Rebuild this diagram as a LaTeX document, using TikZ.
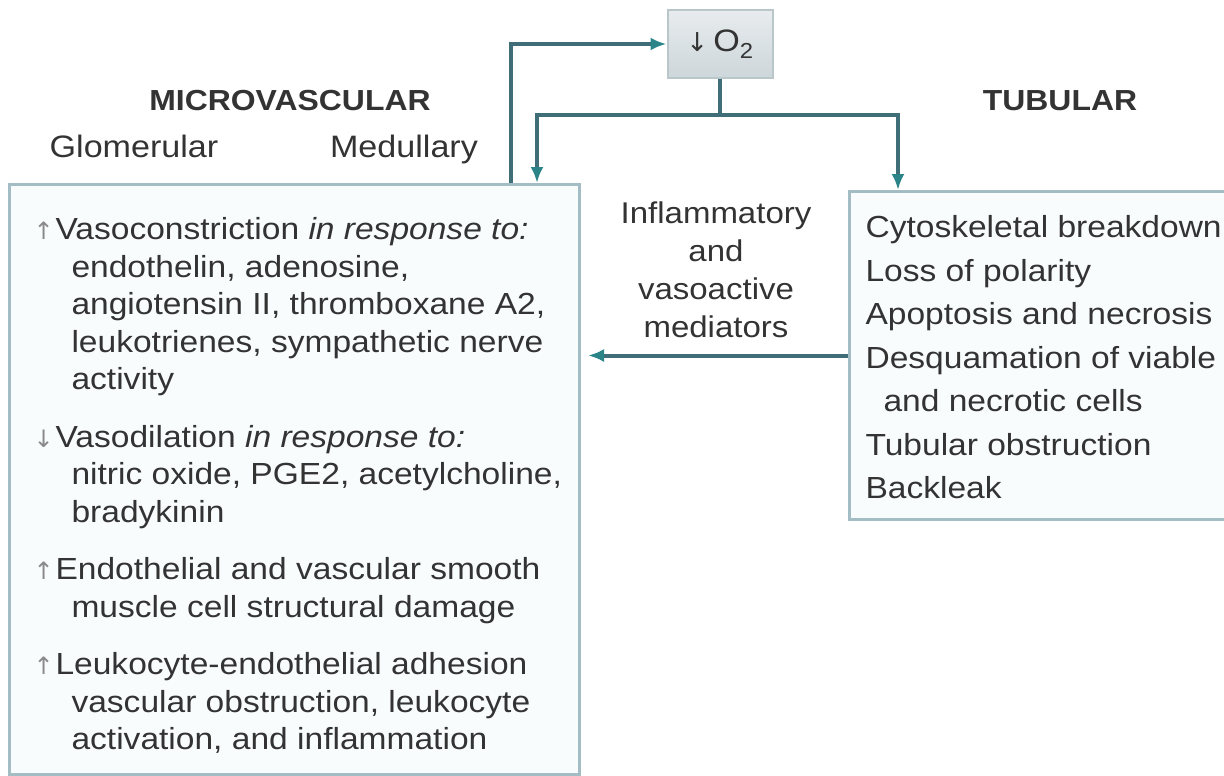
\documentclass[tikz,border=0pt]{standalone}
\usepackage{fontspec}
\setmainfont[FakeStretch=1.1]{Liberation Sans}
\newfontfamily\arrowfont{DejaVu Sans}
\usetikzlibrary{arrows.meta}

\definecolor{linkline}{HTML}{3F6E79}
\definecolor{linktip}{HTML}{2A8488}
\definecolor{boxedge}{HTML}{A4BCC4}
\definecolor{boxfill}{HTML}{F9FCFD}
\definecolor{inktext}{HTML}{333333}
\definecolor{markgray}{HTML}{8A8A8A}
\definecolor{oxytop}{HTML}{E8ECEE}
\definecolor{oxybottom}{HTML}{CDD6DA}
\definecolor{oxyedge}{HTML}{B9C6CA}

\newcommand{\markup}{\makebox[22pt][l]{\arrowfont\color{markgray}\fontsize{24}{24}\selectfont ↑}}
\newcommand{\markdown}{\makebox[22pt][l]{\arrowfont\color{markgray}\fontsize{24}{24}\selectfont ↓}}
\newcommand{\indentline}{\hspace*{38pt}}

\begin{document}
\begin{tikzpicture}[x=1pt, y=-1pt, font=\fontsize{31}{36}\selectfont, text=inktext,
  panel/.style = {rectangle, draw=boxedge, line width=3pt, fill=boxfill, anchor=north west, inner sep=0pt},
  heading/.style = {font=\fontsize{29}{34}\selectfont\bfseries},
  link/.style = {draw=linkline, line width=4pt},
  linkarrow/.style = {link, -{Latex[length=16pt, width=13pt, color=linktip]}}]
  \useasboundingbox [fill=white] (0, 0) rectangle (1224, 776);

  % Boxes.
  \node at (8, 183) [panel, minimum width=570pt, minimum height=590pt, name=Microvascular] {};
  \node at (848, 190) [panel, minimum width=400pt, minimum height=328pt, name=Tubular] {};
  \node at (720, 44) [rectangle, draw=oxyedge, line width=2pt, top color=oxytop, bottom color=oxybottom,
                      minimum width=105pt, minimum height=68pt, name=Oxygen] {{\arrowfont\fontsize{26}{26}\selectfont ↓}\,O\textsubscript{2}};

  % Headings.
  \node at (290, 101) [heading, name=MicroTitle] {MICROVASCULAR};
  \node at (134, 157) [anchor=base, name=Glomerular] {Glomerular};
  \node at (404, 157) [anchor=base, name=Medullary] {Medullary};
  \node at (1060, 101) [heading, name=TubularTitle] {TUBULAR};

  % Box contents.
  \node at (30, 214) [anchor=north west, align=left, font=\fontsize{30.5}{37.5}\selectfont, name=MicroList]
    {\markup Vasoconstriction \textit{in response to:}\\
     \indentline endothelin, adenosine,\\
     \indentline angiotensin II, thromboxane A2,\\
     \indentline leukotrienes, sympathetic nerve\\
     \indentline activity\\[20pt]
     \markdown Vasodilation \textit{in response to:}\\
     \indentline nitric oxide, PGE2, acetylcholine,\\
     \indentline bradykinin\\[20pt]
     \markup Endothelial and vascular smooth\\
     \indentline muscle cell structural damage\\[20pt]
     \markup Leukocyte-endothelial adhesion\\
     \indentline vascular obstruction, leukocyte\\
     \indentline activation, and inflammation};
  \node at (862, 212) [anchor=north west, align=left, font=\fontsize{30.5}{43.5}\selectfont, name=TubularList]
    {Cytoskeletal breakdown\\
     Loss of polarity\\
     Apoptosis and necrosis\\
     Desquamation of viable\\
     \hspace*{18pt}and necrotic cells\\
     Tubular obstruction\\
     Backleak};
  \node at (716, 270) [align=center, font=\fontsize{30}{38}\selectfont, name=Mediators]
    {Inflammatory\\and\\vasoactive\\mediators};

  % Connections.
  \coordinate (feedback) at (511, 44);
  \coordinate (branch) at (720, 115);
  \coordinate (branchLeft) at (537, 115);
  \coordinate (branchRight) at (898, 115);
  \draw [linkarrow] (feedback |- Microvascular.north)
             -- (feedback)
             -- (Oxygen.west);
  \draw [link] (Oxygen.south)
             -- (branch);
  \draw [linkarrow] (branch)
             -- (branchLeft)
             -- (branchLeft |- Microvascular.north);
  \draw [linkarrow] (branch)
             -- (branchRight)
             -- (branchRight |- Tubular.north);
  \draw [linkarrow, shorten >=7pt] (Tubular.west)
             -- (Tubular.west -| Microvascular.east);
\end{tikzpicture}
\end{document}
